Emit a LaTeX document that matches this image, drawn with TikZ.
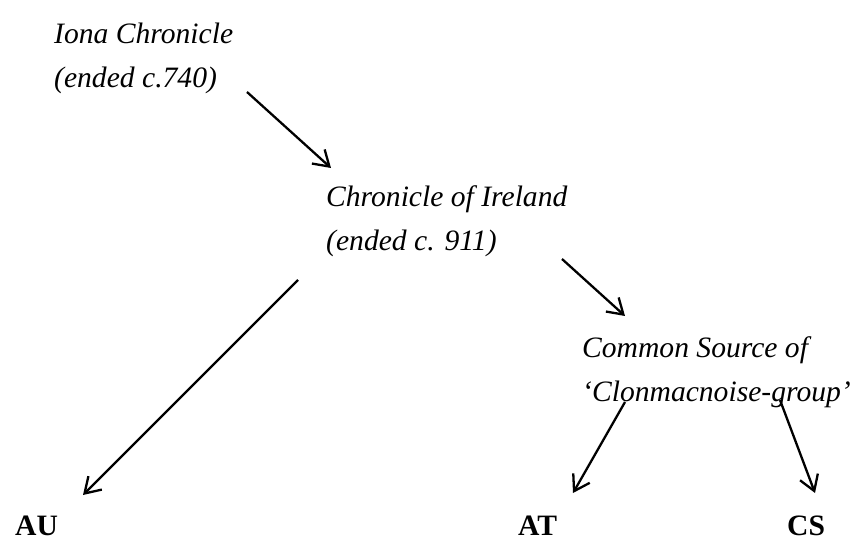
\documentclass[tikz,border=0pt]{standalone}
\usepackage{fontspec}
\setmainfont{Liberation Serif}
\usepackage{tikz}
\usetikzlibrary{arrows.meta}

\tikzset{
  src/.style={font=\fontsize{29.6}{44}\selectfont\itshape, align=left, anchor=base west, inner sep=0pt},
  ms/.style={font=\fontsize{29.6}{44}\selectfont\bfseries, anchor=base west, inner sep=0pt},
  arr/.style={-{Straight Barb[length=15pt,width=19pt]}, line width=2.3pt}
}

\begin{document}
\begin{tikzpicture}[x=1pt, y=-1pt]
    \useasboundingbox (0, 0) rectangle (855, 540);
    \begin{scope}
      % sources
      \node[src] (iona) at (54, 88) {Iona Chronicle\\(ended c.740)};
      \node[src] (chron) at (326, 251) {Chronicle of Ireland\\(ended c. 911)};
      \node[src] (common) at (582, 402) {Common Source of\\‘Clonmacnoise-group’};
      % surviving annals
      \node[ms] (au) at (15, 535) {AU};
      \node[ms] (at) at (518, 535) {AT};
      \node[ms] (cs) at (787, 535) {CS};
    \end{scope}
    \draw[arr] ([shift={(193, 4)}]iona.base west) -- ([shift={(5, -83)}]chron.base west);
    \draw[arr] ([shift={(-28, 29)}]chron.base west) -- ([shift={(68, -40)}]au.base west);
    \draw[arr] ([shift={(236, 8)}]chron.base west) -- ([shift={(43, -86)}]common.base west);
    \draw[arr] ([shift={(43, 0)}]common.base west) -- ([shift={(55, -42)}]at.base west);
    \draw[arr] ([shift={(198, -2)}]common.base west) -- ([shift={(28, -42)}]cs.base west);
\end{tikzpicture}
\end{document}
